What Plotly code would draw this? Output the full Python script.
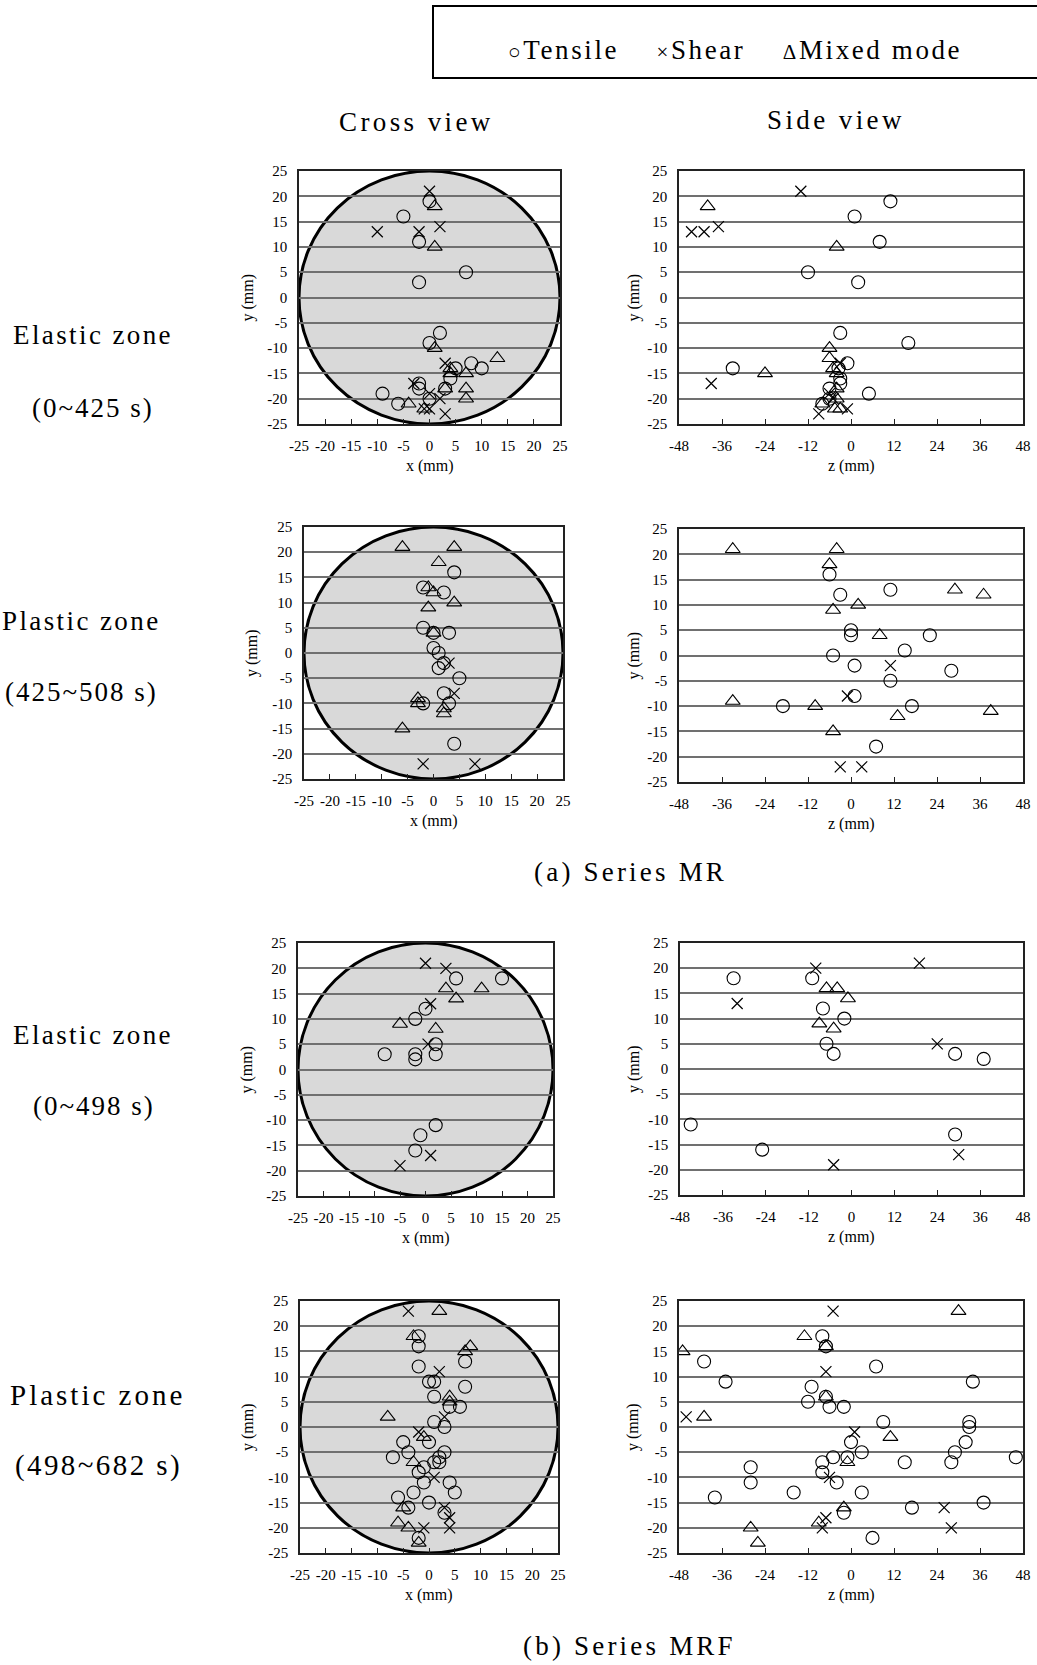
import plotly.graph_objects as go

# ---------------- data (x or z, y) in mm ----------------
# Series MR, elastic zone
mr_el_cross_tensile = [(0, 19), (-5, 16), (-2, 11), (7, 5), (-2, 3), (2, -7), (0, -9), (8, -13), (10, -14),
                       (5, -14), (4, -16), (-2, -17), (-2, -18), (3, -18), (-9, -19), (0, -20), (-6, -21)]
mr_el_cross_shear = [(0, 21), (-10, 13), (-2, 13), (2, 14), (3, -13), (-3, -17), (0, -19), (2, -20),
                     (-1, -22), (0, -22), (3, -23)]
mr_el_cross_mixed = [(1, 18), (1, 10), (1, -10), (13, -12), (4, -14), (4, -15), (7, -15), (3, -18),
                     (7, -18), (7, -20), (-4, -21), (-1, -22)]
mr_el_side_tensile = [(11, 19), (1, 16), (8, 11), (-12, 5), (2, 3), (-3, -7), (16, -9), (-1, -13), (-33, -14),
                      (-3.5, -14), (-3, -16), (-3, -17), (-6, -18), (5, -19), (-6, -20), (-8, -21)]
mr_el_side_shear = [(-14, 21), (-44.5, 13), (-41, 13), (-37, 14), (-39, -17), (-9, -23), (-1, -22),
                    (-6, -19), (-3, -13), (-5, -20)]
mr_el_side_mixed = [(-40, 18), (-4, 10), (-24, -15), (-6, -10), (-6, -12), (-5, -14), (-4, -15),
                    (-4, -18), (-4, -20), (-4.5, -22), (-3, -22), (-8, -21)]

# Series MR, plastic zone
mr_pl_cross_tensile = [(4, 16), (-2, 13), (2, 12), (-2, 5), (0, 4), (3, 4), (0, 1), (1, 0), (2, -2),
                       (1, -3), (5, -5), (2, -8), (3, -10), (-2, -10), (4, -18)]
mr_pl_cross_shear = [(3, -2), (4, -8), (-2, -22), (8, -22)]
mr_pl_cross_mixed = [(-6, 21), (4, 21), (1, 18), (-1, 13), (0, 12), (4, 10), (-1, 9), (0, 4),
                     (-3, -9), (-3, -10), (2, -11), (2, -12), (-6, -15)]
mr_pl_side_tensile = [(-6, 16), (-3, 12), (11, 13), (0, 5), (0, 4), (22, 4), (15, 1), (-5, 0), (1, -2),
                      (28, -3), (11, -5), (1, -8), (-19, -10), (17, -10), (7, -18)]
mr_pl_side_shear = [(11, -2), (-1, -8), (-3, -22), (3, -22)]
mr_pl_side_mixed = [(-33, 21), (-4, 21), (-6, 18), (29, 13), (37, 12), (2, 10), (-5, 9), (8, 4),
                    (-33, -9), (-10, -10), (13, -12), (-5, -15), (39, -11)]

# Series MRF, elastic zone
mrf_el_cross_tensile = [(6, 18), (15, 18), (0, 12), (-2, 10), (2, 5), (-8, 3), (-2, 3), (-2, 2), (2, 3),
                        (2, -11), (-1, -13), (-2, -16)]
mrf_el_cross_shear = [(0, 21), (4, 20), (1, 13), (0.5, 5), (1, -17), (-5, -19)]
mrf_el_cross_mixed = [(4, 16), (11, 16), (6, 14), (-5, 9), (2, 8)]
mrf_el_side_tensile = [(-33, 18), (-11, 18), (-8, 12), (-2, 10), (-7, 5), (-5, 3), (29, 3), (37, 2),
                       (-45, -11), (-25, -16), (29, -13)]
mrf_el_side_shear = [(-10, 20), (19, 21), (-32, 13), (24, 5), (30, -17), (-5, -19)]
mrf_el_side_mixed = [(-7, 16), (-4, 16), (-1, 14), (-9, 9), (-5, 8)]

# Series MRF, plastic zone
mrf_pl_cross_tensile = [(-2, 18), (-2, 16), (-2, 12), (0, 9), (1, 9), (7, 13), (7, 8), (1, 6), (4, 4),
                        (6, 4), (1, 1), (3, 0), (-5, -3), (0, -3), (-4, -5), (3, -5), (-7, -6), (2, -6),
                        (2, -7), (1, -7), (-1, -8), (-2, -9), (-1, -11), (4, -11), (-3, -13), (5, -13),
                        (0, -15), (-6, -14), (-4, -16), (3, -17), (-2, -22)]
mrf_pl_cross_shear = [(-4, 23), (2, 11), (3, 2), (-2, -1), (1, -10), (3, -16), (4, -18), (4, -20), (-1, -20)]
mrf_pl_cross_mixed = [(2, 23), (-3, 18), (8, 16), (7, 15), (4, 6), (4, 5), (-8, 2), (-1, -2), (-3, -7),
                      (-5, -16), (-6, -19), (-4, -20), (-2, -23)]
mrf_pl_side_tensile = [(-8, 18), (-7, 16), (-41, 13), (-35, 9), (7, 12), (34, 9), (-11, 8), (-12, 5),
                       (-7, 6), (-6, 4), (-2, 4), (9, 1), (33, 1), (33, 0), (32, -3), (0, -3), (3, -5),
                       (29, -5), (-5, -6), (-1, -6), (46, -6), (-8, -7), (15, -7), (28, -7), (-28, -8),
                       (-8, -9), (-28, -11), (-4, -11), (-16, -13), (3, -13), (-38, -14), (37, -15),
                       (17, -16), (-2, -17), (6, -22)]
mrf_pl_side_shear = [(-5, 23), (-7, 11), (-46, 2), (1, -1), (-6, -10), (-7, -18), (-8, -20), (26, -16), (28, -20)]
mrf_pl_side_mixed = [(-47, 15), (-13, 18), (-7, 16), (-7, 6), (-41, 2), (11, -2), (-1, -7), (-2, -16),
                     (-9, -19), (-28, -20), (-26, -23), (30, 23)]

# tick labels
cross_ticks = [-25, -20, -15, -10, -5, 0, 5, 10, 15, 20, 25]
side_ticks = [-48, -36, -24, -12, 0, 12, 24, 36, 48]
y_ticks = [-25, -20, -15, -10, -5, 0, 5, 10, 15, 20, 25]

# ---------------- layout ----------------
W, H = 1037, 1665
SERIF = "Liberation Serif, Times New Roman, serif"

panels = [
    # (data triple, kind, pixel box x0, x1, y0(top), y1(bottom))
    ((mr_el_cross_tensile, mr_el_cross_shear, mr_el_cross_mixed), "cross", 299, 560, 171, 424),
    ((mr_el_side_tensile, mr_el_side_shear, mr_el_side_mixed), "side", 679, 1023, 171, 424),
    ((mr_pl_cross_tensile, mr_pl_cross_shear, mr_pl_cross_mixed), "cross", 304, 563, 527, 779),
    ((mr_pl_side_tensile, mr_pl_side_shear, mr_pl_side_mixed), "side", 679, 1023, 529, 782),
    ((mrf_el_cross_tensile, mrf_el_cross_shear, mrf_el_cross_mixed), "cross", 298, 553, 943, 1196),
    ((mrf_el_side_tensile, mrf_el_side_shear, mrf_el_side_mixed), "side", 680, 1023, 943, 1195),
    ((mrf_pl_cross_tensile, mrf_pl_cross_shear, mrf_pl_cross_mixed), "cross", 300, 558, 1301, 1553),
    ((mrf_pl_side_tensile, mrf_pl_side_shear, mrf_pl_side_mixed), "side", 679, 1023, 1301, 1553),
]


def lab(v):
    return str(v).replace("\u2212", "-")


fig = go.Figure()
shapes = []
annotations = []

marker_styles = [
    dict(symbol="circle-open", size=13, color="black", line=dict(width=1.1, color="black")),
    dict(symbol="x-thin-open", size=11, color="black", line=dict(width=1.2, color="black")),
    dict(symbol="triangle-up-open", size=13, color="black", line=dict(width=1.1, color="black")),
]
names = ["Tensile", "Shear", "Mixed mode"]

layout_axes = {}
for i, (data, kind, px0, px1, py0, py1) in enumerate(panels, start=1):
    sfx = "" if i == 1 else str(i)
    xa, ya = "x" + sfx, "y" + sfx
    for pts, ms, nm in zip(data, marker_styles, names):
        fig.add_trace(go.Scatter(
            x=[p[0] for p in pts], y=[p[1] for p in pts], mode="markers",
            marker=ms, name=nm, showlegend=False, xaxis=xa, yaxis=ya, hoverinfo="x+y"))
    xt = cross_ticks if kind == "cross" else side_ticks
    xr = [-25, 25] if kind == "cross" else [-48, 48]
    layout_axes["xaxis" + sfx] = dict(
        domain=[px0 / W, px1 / W], anchor=ya, range=xr, tickvals=xt, ticktext=[lab(t) for t in xt],
        showgrid=False, zeroline=False, showline=True, linecolor="#222", linewidth=1.5, mirror=True,
        ticks="inside", ticklen=5, tickcolor="#222", tickwidth=1.3, ticklabelstandoff=7,
        automargin=False,
        tickfont=dict(family=SERIF, size=15, color="black"), fixedrange=True)
    layout_axes["yaxis" + sfx] = dict(
        domain=[1 - py1 / H, 1 - py0 / H], anchor=xa, range=[-25, 25], tickvals=y_ticks,
        ticktext=[lab(t) for t in y_ticks], showgrid=True, gridcolor="#707070", gridwidth=1.5,
        zeroline=False, showline=True, linecolor="#222", linewidth=1.5, mirror=True, ticks="",
        ticklabelstandoff=7, automargin=False,
        tickfont=dict(family=SERIF, size=15, color="black"), fixedrange=True)
    if kind == "cross":
        shapes.append(dict(type="circle", xref=xa, yref=ya, x0=-25, x1=25, y0=-25, y1=25,
                           layer="below", fillcolor="#d9d9d9", line=dict(color="black", width=3)))
    # axis titles
    xtitle = "x (mm)" if kind == "cross" else "z (mm)"
    annotations.append(dict(text=xtitle, xref="paper", yref="paper", x=(px0 + px1) / 2 / W,
                            y=1 - (py1 + 42) / H, showarrow=False, xanchor="center", yanchor="middle",
                            font=dict(family=SERIF, size=16, color="black")))
    off = 52 if kind == "cross" else 46
    annotations.append(dict(text="y (mm)", xref="paper", yref="paper", x=(px0 - off) / W,
                            y=1 - (py0 + py1) / 2 / H, showarrow=False, textangle=-90,
                            xanchor="center", yanchor="middle",
                            font=dict(family=SERIF, size=16, color="black")))


def big(text, cx, cy, size=27, spacing=2.0):
    annotations.append(dict(
        text='<span style="letter-spacing:%.1fpx">%s</span>' % (spacing, text),
        xref="paper", yref="paper", x=cx / W, y=1 - cy / H, showarrow=False,
        xanchor="center", yanchor="middle", font=dict(family=SERIF, size=size, color="black")))


big("Cross view", 416, 122, 27, 3.4)
big("Side view", 836, 120, 27, 3.4)
big("Elastic zone", 93, 335, 27, 2.4)
big("(0~425 s)", 93, 408, 27, 2.0)
big("Plastic zone", 81, 621, 27, 2.4)
big("(425~508 s)", 81, 692, 27, 2.0)
big("(a) Series MR", 630, 872, 27, 3.2)
big("Elastic zone", 93, 1035, 27, 2.4)
big("(0~498 s)", 94, 1106, 27, 2.0)
big("Plastic zone", 97, 1395, 29, 3.0)
big("(498~682 s)", 98, 1465, 29, 2.4)
big("(b) Series MRF", 629, 1646, 27, 3.2)

# legend box
shapes.append(dict(type="rect", xref="paper", yref="paper", x0=433 / W, x1=1060 / W,
                   y0=1 - 78 / H, y1=1 - 6 / H, line=dict(color="black", width=2), fillcolor="white",
                   layer="below"))
annotations.append(dict(
    text='<span style="letter-spacing:2.6px"><span style="font-size:21px">○</span>Tensile    '
         '<span style="font-size:21px">×</span>Shear    '
         '<span style="font-size:21px">Δ</span>Mixed mode</span>',
    xref="paper", yref="paper", x=735 / W, y=1 - 50 / H, showarrow=False,
    xanchor="center", yanchor="middle",
    font=dict(family=SERIF, size=27, color="black")))

fig.update_layout(
    width=W, height=H, margin=dict(l=0, r=0, t=0, b=0, autoexpand=False),
    paper_bgcolor="white", plot_bgcolor="white", showlegend=False,
    shapes=shapes, annotations=annotations, **layout_axes)

fig.write_html("out.html", config={"displayModeBar": False},
               post_script="document.body.style.margin='0';")
